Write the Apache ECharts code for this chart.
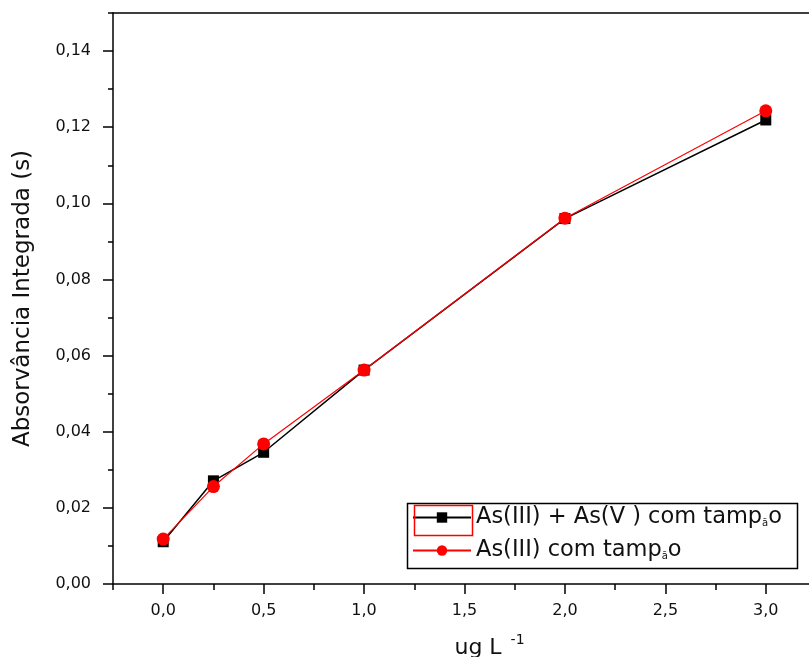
<!DOCTYPE html>
<html>
<head>
<meta charset="utf-8">
<script src="https://cdn.jsdelivr.net/npm/echarts@6/dist/echarts.min.js"></script>
<style>html,body{margin:0;padding:0;background:#fff}#c{width:809px;height:657px}</style>
</head>
<body>
<div id="c"></div>
<script>
const xValues = [0, 0.25, 0.5, 1, 2, 3];
const seriesAName = 'As(III) + As(V ) com tampão';
const seriesBName = 'As(III) com tampão';
const seriesA = [0.0111, 0.0271, 0.0346, 0.0562, 0.0960, 0.1219];
const seriesB = [0.0118, 0.0256, 0.0368, 0.0562, 0.0961, 0.1243];
const xMajorTicks = [0, 0.5, 1, 1.5, 2, 2.5, 3];
const xMinorTicks = [-0.25, 0.25, 0.75, 1.25, 1.75, 2.25, 2.75, 3.25];
const yMajorTicks = [0, 0.02, 0.04, 0.06, 0.08, 0.10, 0.12, 0.14];
const yMinorTicks = [0.01, 0.03, 0.05, 0.07, 0.09, 0.11, 0.13, 0.15];

const FONT = 'DejaVu Sans';
const TXT = '#111';
const chart = echarts.init(document.getElementById('c'));
const axisLine = {show: true, onZero: false, lineStyle: {color: '#000', width: 1.5}};
const grid = {left: 113, top: 13, right: -7, bottom: 73, containLabel: false, outerBoundsMode: 'none'};

function legendFmt(name) {
  return name.replace('tampão', 'tamp{s|ã}o');
}

chart.setOption({
  animation: false,
  grid: grid,
  xAxis: [
    {
      type: 'value', position: 'bottom', min: -0.25, max: 3.25,
      axisLine: axisLine,
      splitLine: {show: false},
      axisTick: {show: true, inside: false, length: 10, customValues: xMajorTicks, lineStyle: {color: '#000', width: 1.5}},
      axisLabel: {customValues: xMajorTicks, margin: 19, fontFamily: FONT, fontSize: 16, color: TXT,
        formatter: v => v.toFixed(1).replace('.', ',')},
      name: '{a|ug L }{b|-1}', nameLocation: 'middle', nameGap: 49,
      nameTextStyle: {fontFamily: FONT, color: TXT, padding: [0, 0, 0, 50],
        rich: {a: {fontFamily: FONT, fontSize: 22, color: TXT, verticalAlign: 'bottom', lineHeight: 26},
               b: {fontFamily: FONT, fontSize: 14, color: TXT, verticalAlign: 'top', lineHeight: 26, padding: [0, 0, 10, 2]}}}
    },
    {
      type: 'value', position: 'bottom', min: -0.25, max: 3.25,
      axisLine: {show: false, onZero: false}, splitLine: {show: false},
      axisTick: {show: true, length: 6, customValues: xMinorTicks, lineStyle: {color: '#000', width: 1.5}},
      axisLabel: {show: false}
    },
    {
      type: 'value', position: 'top', min: -0.25, max: 3.25,
      axisLine: axisLine, splitLine: {show: false},
      axisTick: {show: false}, axisLabel: {show: false}
    }
  ],
  yAxis: [
    {
      type: 'value', position: 'left', min: 0, max: 0.15,
      axisLine: axisLine, splitLine: {show: false},
      axisTick: {show: true, length: 10, customValues: yMajorTicks, lineStyle: {color: '#000', width: 1.5}},
      axisLabel: {customValues: yMajorTicks, margin: 22, fontFamily: FONT, fontSize: 16, color: TXT,
        formatter: v => v.toFixed(2).replace('.', ',')},
      name: 'Absorvância Integrada (s)', nameLocation: 'middle', nameGap: 78,
      nameTextStyle: {fontFamily: FONT, fontSize: 23, color: TXT}
    },
    {
      type: 'value', position: 'left', min: 0, max: 0.15,
      axisLine: {show: false, onZero: false}, splitLine: {show: false},
      axisTick: {show: true, length: 5, customValues: yMinorTicks, lineStyle: {color: '#000', width: 1.5}},
      axisLabel: {show: false}
    }
  ],
  legend: {
    orient: 'vertical', left: 412, top: 506, padding: 0, itemGap: 10,
    itemWidth: 58, itemHeight: 13,
    formatter: legendFmt,
    textStyle: {fontFamily: FONT, fontSize: 22.5, color: TXT, lineHeight: 22,
      rich: {s: {fontFamily: FONT, fontSize: 10, color: TXT, verticalAlign: 'bottom', lineHeight: 22}}},
    data: [seriesAName, seriesBName]
  },
  graphic: [
    {type: 'rect', left: 405, top: 501, shape: {width: 390, height: 65},
     style: {fill: 'none', stroke: '#000', lineWidth: 1.5}, z: 100},
    {type: 'rect', left: 412, top: 503, shape: {width: 58, height: 30},
     style: {fill: 'none', stroke: '#ff0000', lineWidth: 1.5}, z: 100}
  ],
  series: [
    {
      name: seriesAName, type: 'line', xAxisIndex: 0, yAxisIndex: 0,
      data: xValues.map((x, i) => [x, seriesA[i]]),
      symbol: 'rect', symbolSize: 11,
      itemStyle: {color: '#000'}, lineStyle: {color: '#000', width: 1.5}, z: 2
    },
    {
      name: seriesBName, type: 'line', xAxisIndex: 0, yAxisIndex: 0,
      data: xValues.map((x, i) => [x, seriesB[i]]),
      symbol: 'circle', symbolSize: 13,
      itemStyle: {color: '#ff0000'}, lineStyle: {color: '#ff0000', width: 1.2}, z: 3
    }
  ]
});
</script>
</body>
</html>
